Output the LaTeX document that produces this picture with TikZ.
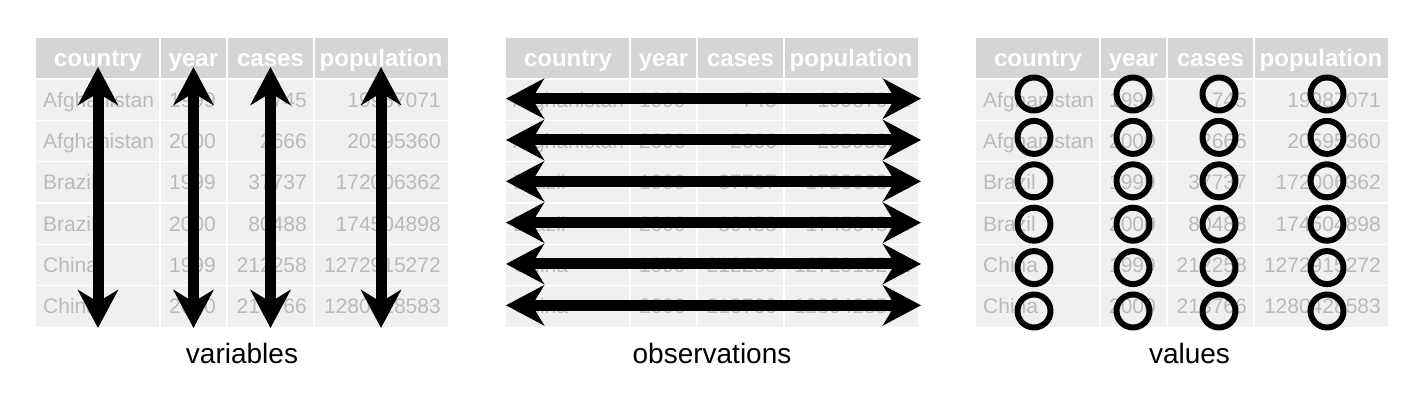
\documentclass[tikz,border=0pt]{standalone}
\usepackage{fontspec}
\setmainfont{Liberation Sans}
\usetikzlibrary{arrows.meta}
\definecolor{cabeza}{HTML}{D5D5D7}
\definecolor{cuerpo}{HTML}{EFF0EF}
\definecolor{gris}{HTML}{BABABA}
\begin{document}
\begin{tikzpicture}[x=1pt, y=-1pt, line join=round, >={Stealth[length=38pt, width=40pt, inset=12pt]}]
	\def\h{41}
	\def\f{41.33}
	\tikzset{
		dato/.style={text=gris, font=\fontsize{21}{21}\selectfont, inner sep=0pt},
		cab/.style={text=white, font=\fontsize{24}{24}\selectfont\bfseries, inner sep=0pt, anchor=base},
		rotulo/.style={font=\fontsize{28}{28}\selectfont, inner sep=0pt, anchor=base},
		flecha/.style={line width=11pt, <->},
		valor/.style={draw, line width=6pt, circle, minimum size=33pt, inner sep=0pt},
		tabla/.pic={
			\fill[cabeza] (0,0) rectangle (412,\h);
			\fill[cuerpo] (0,\h) rectangle (412,{\h+6*\f});
			\foreach \i in {0,...,5} \draw[white, line width=1.5pt] (0,{\h+\i*\f}) -- (412,{\h+\i*\f});
			\foreach \c in {124,191,278} \draw[white, line width=1.5pt] (\c,0) -- (\c,{\h+6*\f});
			\node[cab] (c1) at (62,29) {country};
			\node[cab] (c2) at (157.5,29) {year};
			\node[cab] (c3) at (234.5,29) {cases};
			\node[cab] (c4) at (345,29) {population};
			\foreach \pais/\anio/\casos/\pob [count=\i] in {Afghanistan/1999/745/19987071, Afghanistan/2000/2666/20595360, Brazil/1999/37737/172006362, Brazil/2000/80488/174504898, China/1999/212258/1272915272, China/2000/213766/1280428583}{
				\node[dato, anchor=base west] (p\i) at (7,{\h+(\i-0.5)*\f+7.5}) {\pais};
				\node[dato, anchor=base east] (a\i) at (180,{\h+(\i-0.5)*\f+7.5}) {\anio};
				\node[dato, anchor=base east] (k\i) at (271,{\h+(\i-0.5)*\f+7.5}) {\casos};
				\node[dato, anchor=base east] (n\i) at (405,{\h+(\i-0.5)*\f+7.5}) {\pob};
			}
		}
	}
	\pic (t1) at (36,38) {tabla};
	\pic (t2) at (506,38) {tabla};
	\pic (t3) at (976,38) {tabla};
	% variables
	\foreach \x [count=\j] in {98,193.5,270.5,381}{
		\coordinate (va\j) at (\x,67);
		\coordinate (vb\j) at (\x,328);
		\draw[flecha] (va\j) -- (vb\j);
	}
	% observations
	\foreach \j in {1,...,6}{
		\coordinate (oa\j) at (506,{38+\h+(\j-0.5)*\f-1});
		\coordinate (ob\j) at (921,{38+\h+(\j-0.5)*\f-1});
		\draw[flecha] (oa\j) -- (ob\j);
	}
	% values
	\foreach \x [count=\j] in {1034,1133,1219,1327}
		\foreach \r in {1,...,6}
			\node[valor] (v\j-\r) at (\x,{94+(\r-1)*43.4}) {};
	\node[rotulo] (var) at (242,363) {variables};
	\node[rotulo] (obs) at (712,363) {observations};
	\node[rotulo] (val) at (1189.5,363) {values};
	\useasboundingbox (0,0) rectangle (1414,406);
\end{tikzpicture}
\end{document}
